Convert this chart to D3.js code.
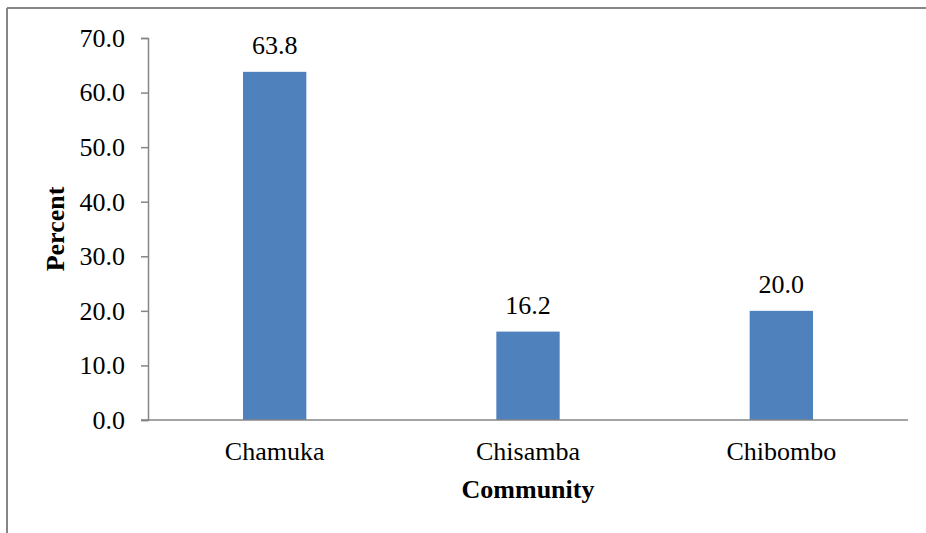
<!DOCTYPE html>
<html>
<head>
<meta charset="utf-8">
<script src="https://cdn.jsdelivr.net/npm/d3@7"></script>
<style>
  html, body { margin: 0; padding: 0; background: #fff; }
  svg { display: block; font-family: "Liberation Serif", "Times New Roman", Times, serif; }
</style>
</head>
<body>
<svg id="chart" width="926" height="533"></svg>
<script>
// Share of respondents by community (percent)
const communities = ["Chamuka", "Chisamba", "Chibombo"];
const percents = [63.8, 16.2, 20.0];
const yTicks = [0, 10, 20, 30, 40, 50, 60, 70];

const svg = d3.select("#chart");
const W = 926, H = 533;
const margin = { left: 148, right: 18, top: 38, bottom: 113 };
const axisColor = "#868686";
const serif = "'Liberation Serif', 'Times New Roman', Times, serif";

// Outer frame lines (top and left edges)
svg.append("line").attr("x1", 7).attr("x2", W).attr("y1", 8).attr("y2", 8)
  .attr("stroke", axisColor).attr("stroke-width", 2);
svg.append("line").attr("x1", 7).attr("x2", 7).attr("y1", 8).attr("y2", H)
  .attr("stroke", axisColor).attr("stroke-width", 2);

const x = d3.scaleBand()
  .domain(communities)
  .range([margin.left, W - margin.right])
  .paddingInner(0.75)
  .paddingOuter(0.375);

const y = d3.scaleLinear()
  .domain([0, 70])
  .range([H - margin.bottom, margin.top]);

// Bars
svg.append("g").selectAll("rect")
  .data(communities)
  .join("rect")
  .attr("x", d => x(d))
  .attr("width", x.bandwidth())
  .attr("y", (d, i) => y(percents[i]))
  .attr("height", (d, i) => y(0) - y(percents[i]))
  .attr("fill", "#4F81BD");

// Value labels
svg.append("g").selectAll("text")
  .data(communities)
  .join("text")
  .attr("x", d => x(d) + x.bandwidth() / 2)
  .attr("y", (d, i) => y(percents[i]) - 18)
  .attr("text-anchor", "middle")
  .attr("font-size", 26)
  .attr("font-family", serif)
  .attr("fill", "#000")
  .text((d, i) => percents[i].toFixed(1));

// Y axis
const yAxis = d3.axisLeft(y).tickValues(yTicks).tickFormat(d3.format(".1f")).tickSize(7).tickPadding(16);
const gy = svg.append("g").attr("transform", `translate(${margin.left},0)`).call(yAxis);
gy.select(".domain").attr("stroke", axisColor).attr("stroke-width", 1.5);
gy.selectAll(".tick line").attr("stroke", axisColor).attr("stroke-width", 1.5);
gy.selectAll(".tick text").attr("font-size", 26).attr("fill", "#000")
  .attr("font-family", serif);

// X axis baseline
const gx = svg.append("g").attr("transform", `translate(0,${y(0)})`)
  .call(d3.axisBottom(x).tickSize(0).tickPadding(22));
gx.select(".domain").attr("stroke", axisColor).attr("stroke-width", 1.5)
  .attr("d", `M${margin.left - 7},0H${W - margin.right}`);
gx.selectAll(".tick text").attr("font-size", 26).attr("fill", "#000")
  .attr("font-family", serif);

// Axis titles
svg.append("text")
  .attr("x", (margin.left + W - margin.right) / 2)
  .attr("y", 498)
  .attr("text-anchor", "middle")
  .attr("font-size", 26)
  .attr("font-family", serif)
  .attr("font-weight", "bold")
  .text("Community");

svg.append("text")
  .attr("transform", `translate(64,${(y(0) + y(70)) / 2}) rotate(-90)`)
  .attr("text-anchor", "middle")
  .attr("font-size", 26)
  .attr("font-family", serif)
  .attr("font-weight", "bold")
  .text("Percent");
</script>
</body>
</html>
